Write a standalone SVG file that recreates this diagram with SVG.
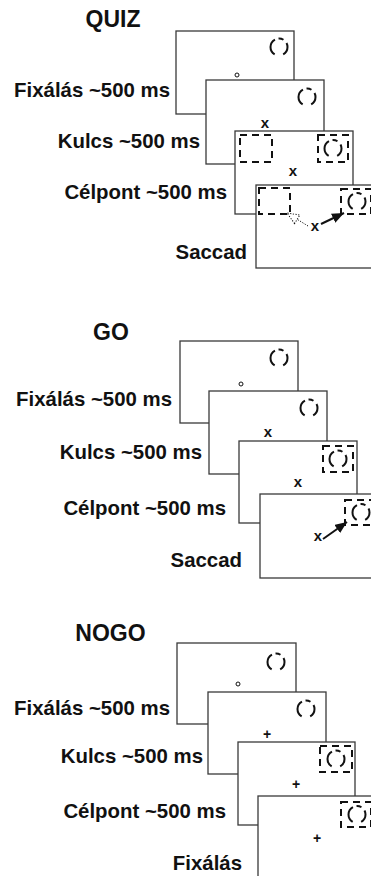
<svg xmlns="http://www.w3.org/2000/svg" width="371" height="876" viewBox="0 0 371 876">
<style>
.frame{fill:#fff;stroke:#3a3a3a;stroke-width:1.3}
.lbl{font-family:"Liberation Sans",Arial,sans-serif;font-weight:bold;font-size:20.4px;fill:#111;text-anchor:end}
.ttl{font-family:"Liberation Sans",Arial,sans-serif;font-weight:bold;font-size:23px;fill:#111;text-anchor:middle}
.mk{font-family:"Liberation Sans",Arial,sans-serif;font-weight:bold;font-size:15px;fill:#111;text-anchor:middle}
.pl{font-family:"Liberation Sans",Arial,sans-serif;font-weight:bold;font-size:14px;fill:#111;text-anchor:middle}
.tc{fill:none;stroke:#111;stroke-width:2;stroke-dasharray:13.35 8.9 17.8 3.7 5.2 4.45;stroke-dashoffset:4.45}
.sq{fill:none;stroke:#111;stroke-width:2;stroke-dasharray:7 5}
.dot{fill:#fff;stroke:#111;stroke-width:1}
.solid{stroke:#111;stroke-width:2;fill:none}
.dotted{stroke:#111;stroke-width:1;stroke-dasharray:1.2 1.5;fill:none}
</style>
<defs>
<marker id="ah" viewBox="0 0 12 10" refX="12" refY="5" markerWidth="12" markerHeight="10" markerUnits="userSpaceOnUse" orient="auto">
<path d="M0,0 L12,5 L0,10 z" fill="#111"/>
</marker>
<marker id="ahh" viewBox="-1 -1 14 12" refX="12" refY="5" markerWidth="14" markerHeight="12" markerUnits="userSpaceOnUse" orient="auto">
<path d="M0,0 L12,5 L0,10 z" fill="#fff" stroke="#111" stroke-width="1" stroke-dasharray="1.2 1.5"/>
</marker>
</defs>

<!-- QUIZ -->
<g id="quiz-labels">
<text class="ttl" x="113" y="27">QUIZ</text>
<text class="lbl" x="170" y="97">Fixálás ~500 ms</text>
<text class="lbl" x="200" y="148">Kulcs ~500 ms</text>
<text class="lbl" x="227" y="199">Célpont ~500 ms</text>
<text class="lbl" x="247" y="259">Saccad</text>
</g>
<g id="quiz-f1">
<rect class="frame" x="176" y="31" width="118" height="83"/>
<circle class="tc" cx="279" cy="47" r="8.5"/>
<circle class="dot" cx="237" cy="75" r="2"/>
</g>
<g id="quiz-f2">
<rect class="frame" x="206" y="80" width="118" height="84"/>
<circle class="tc" cx="307" cy="97" r="8.5"/>
<text class="mk" x="265" y="128">x</text>
</g>
<g id="quiz-f3">
<rect class="frame" x="235" y="131" width="118" height="83"/>
<rect class="sq" x="240" y="135" width="32" height="27"/>
<rect class="sq" x="318" y="135" width="30" height="27"/>
<circle class="tc" cx="333" cy="148.5" r="8.5"/>
<text class="mk" x="293" y="176">x</text>
</g>
<g id="quiz-f4">
<rect class="frame" x="256" y="185" width="130" height="83"/>
<rect class="sq" x="259" y="188" width="31" height="26"/>
<rect class="sq" x="341" y="189" width="30" height="25"/>
<circle class="tc" cx="357" cy="201.5" r="8.5"/>
<text class="mk" x="315" y="231">x</text>
</g>

<!-- GO -->
<g id="go-labels">
<text class="ttl" x="111" y="340">GO</text>
<text class="lbl" x="172" y="406">Fixálás ~500 ms</text>
<text class="lbl" x="202" y="459">Kulcs ~500 ms</text>
<text class="lbl" x="226" y="515">Célpont ~500 ms</text>
<text class="lbl" x="242" y="567">Saccad</text>
</g>
<g id="go-f1">
<rect class="frame" x="180" y="341" width="118" height="82"/>
<circle class="tc" cx="279" cy="358" r="8.5"/>
<circle class="dot" cx="241" cy="384" r="2"/>
</g>
<g id="go-f2">
<rect class="frame" x="209" y="391" width="118" height="83"/>
<circle class="tc" cx="309" cy="408" r="8.5"/>
<text class="mk" x="268" y="437">x</text>
</g>
<g id="go-f3">
<rect class="frame" x="239" y="441" width="118" height="82"/>
<rect class="sq" x="323" y="446" width="30" height="26"/>
<circle class="tc" cx="338" cy="459" r="8.5"/>
<text class="mk" x="298" y="487">x</text>
</g>
<g id="go-f4">
<rect class="frame" x="260" y="494" width="130" height="84"/>
<rect class="sq" x="345" y="500" width="30" height="25"/>
<circle class="tc" cx="361" cy="512.5" r="8.5"/>
<text class="mk" x="318" y="541">x</text>
</g>

<!-- NOGO -->
<g id="nogo-labels">
<text class="ttl" x="110.5" y="641">NOGO</text>
<text class="lbl" x="170" y="715">Fixálás ~500 ms</text>
<text class="lbl" x="203" y="763">Kulcs ~500 ms</text>
<text class="lbl" x="226" y="818">Célpont ~500 ms</text>
<text class="lbl" x="242" y="870">Fixálás</text>
</g>
<g id="nogo-f1">
<rect class="frame" x="177" y="643" width="119" height="81"/>
<circle class="tc" cx="276" cy="662" r="8.5"/>
<circle class="dot" cx="238" cy="684" r="2"/>
</g>
<g id="nogo-f2">
<rect class="frame" x="208" y="692" width="118" height="82"/>
<circle class="tc" cx="306" cy="709" r="8.5"/>
<text class="pl" x="267" y="739">+</text>
</g>
<g id="nogo-f3">
<rect class="frame" x="238" y="742" width="117" height="83"/>
<rect class="sq" x="320" y="746" width="32" height="26"/>
<circle class="tc" cx="336" cy="759" r="8.5"/>
<text class="pl" x="296" y="789">+</text>
</g>
<g id="nogo-f4">
<rect class="frame" x="258" y="796" width="130" height="100"/>
<rect class="sq" x="341" y="802" width="30" height="25"/>
<circle class="tc" cx="357" cy="814.5" r="8.5"/>
<text class="pl" x="317" y="843">+</text>
</g>

<g id="connectors">
<line class="solid" x1="321" y1="224" x2="344" y2="213" marker-end="url(#ah)"/>
<line class="dotted" x1="308" y1="226" x2="287" y2="213" marker-end="url(#ahh)"/>
<line class="solid" x1="323" y1="539" x2="347" y2="522" marker-end="url(#ah)"/>
</g>
</svg>
